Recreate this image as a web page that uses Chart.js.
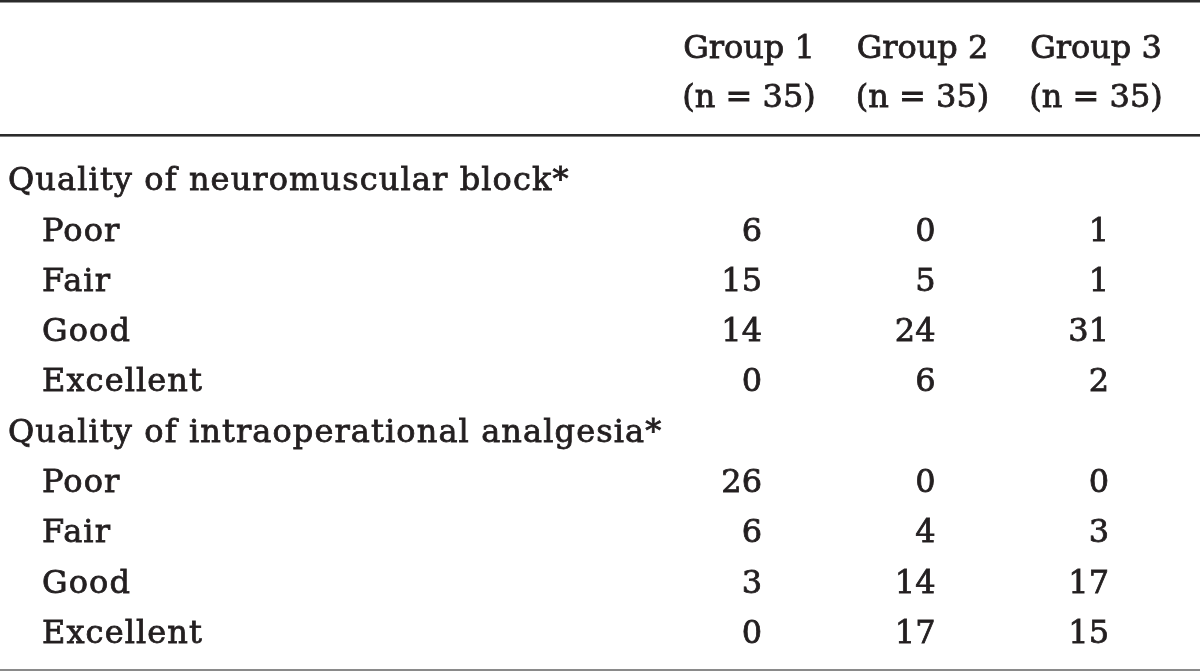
<!DOCTYPE html>
<html>
<head>
<meta charset="utf-8">
<script src="https://cdn.jsdelivr.net/npm/chart.js@4.4.1/dist/chart.umd.min.js"></script>
<style>
html,body{margin:0;padding:0;background:#fff;}
#wrap{width:1200px;height:671px;position:relative;}
</style>
</head>
<body>
<div id="wrap"><canvas id="c" width="1200" height="671"></canvas></div>
<script>
// ---- data ----
const rowLabels = ['Quality of neuromuscular block*','Poor','Fair','Good','Excellent',
                   'Quality of intraoperational analgesia*','Poor','Fair','Good','Excellent'];
const rowLevel = [0,1,1,1,1,0,1,1,1,1];
const groups = ['Group 1','Group 2','Group 3'];
const groupN = ['(n = 35)','(n = 35)','(n = 35)'];
const group1 = [null,6,15,14,0,null,26,6,3,0];
const group2 = [null,0,5,24,6,null,0,4,14,17];
const group3 = [null,1,1,31,2,null,0,3,17,15];
const seriesValues = [group1, group2, group3];

const FONT_FAMILY = '"DejaVu Serif", "Liberation Serif", serif';
const FONT_SIZE = 32;
const TEXT_COLOR = '#231f20';

function toPoints(vals, g){
  const pts = [];
  vals.forEach((v,i)=>{ if(v!==null) pts.push({x:g+1, y:i, v:v}); });
  return pts;
}

function drawText(ctx, s, x, y){
  ctx.fillText(s, x, y);
  ctx.strokeText(s, x, y);
}

const tablePlugin = {
  id:'tablePlugin',
  afterDatasetsDraw(chart){
    const ctx = chart.ctx;
    const xs = chart.scales.x, ys = chart.scales.y;
    ctx.save();
    ctx.font = FONT_SIZE + 'px ' + FONT_FAMILY;
    ctx.textBaseline = 'alphabetic';
    const m = ctx.measureText('H');
    const capHalf = (m.actualBoundingBoxAscent || FONT_SIZE*0.72)/2;
    // rules
    ctx.fillStyle = '#2b2b2b';
    ctx.fillRect(0, 0, chart.width, 2.5);
    ctx.fillRect(0, 134, chart.width, 2.6);
    ctx.fillStyle = '#8a8a8a';
    ctx.fillRect(0, 669, chart.width, 2);
    ctx.fillStyle = TEXT_COLOR;
    ctx.strokeStyle = TEXT_COLOR;
    ctx.lineWidth = 0.8;
    // header
    ctx.textAlign = 'center';
    groups.forEach((g,i)=>{
      const cx = xs.getPixelForValue(i+1);
      drawText(ctx, g, cx, ys.getPixelForValue(-2.62) + capHalf);
      drawText(ctx, groupN[i], cx, ys.getPixelForValue(-1.65) + capHalf);
    });
    // row labels
    ctx.textAlign = 'left';
    ctx.letterSpacing = '1.1px';
    rowLabels.forEach((lab,i)=>{
      const x = rowLevel[i] ? 42 : 8;
      drawText(ctx, lab, x, ys.getPixelForValue(i) + capHalf);
    });
    ctx.letterSpacing = '0px';
    // cell values
    ctx.textAlign = 'right';
    chart.data.datasets.forEach((ds,di)=>{
      const meta = chart.getDatasetMeta(di);
      meta.data.forEach((el,j)=>{
        drawText(ctx, String(ds.data[j].v), el.x + 13, el.y + capHalf);
      });
    });
    ctx.restore();
  }
};

new Chart(document.getElementById('c'), {
  type:'scatter',
  data:{
    datasets: seriesValues.map((vals,g)=>({
      label: groups[g],
      data: toPoints(vals,g),
      pointRadius:0,
      pointHoverRadius:0,
      showLine:false
    }))
  },
  options:{
    responsive:false,
    animation:false,
    events:[],
    layout:{padding:{left:662.25, right:17.25, top:153.6, bottom:14.4}},
    plugins:{legend:{display:false}, tooltip:{enabled:false}},
    scales:{
      x:{type:'linear', min:0.5, max:3.5, display:false},
      y:{type:'linear', min:-0.5, max:9.5, reverse:true, display:false}
    }
  },
  plugins:[tablePlugin]
});
</script>
</body>
</html>
